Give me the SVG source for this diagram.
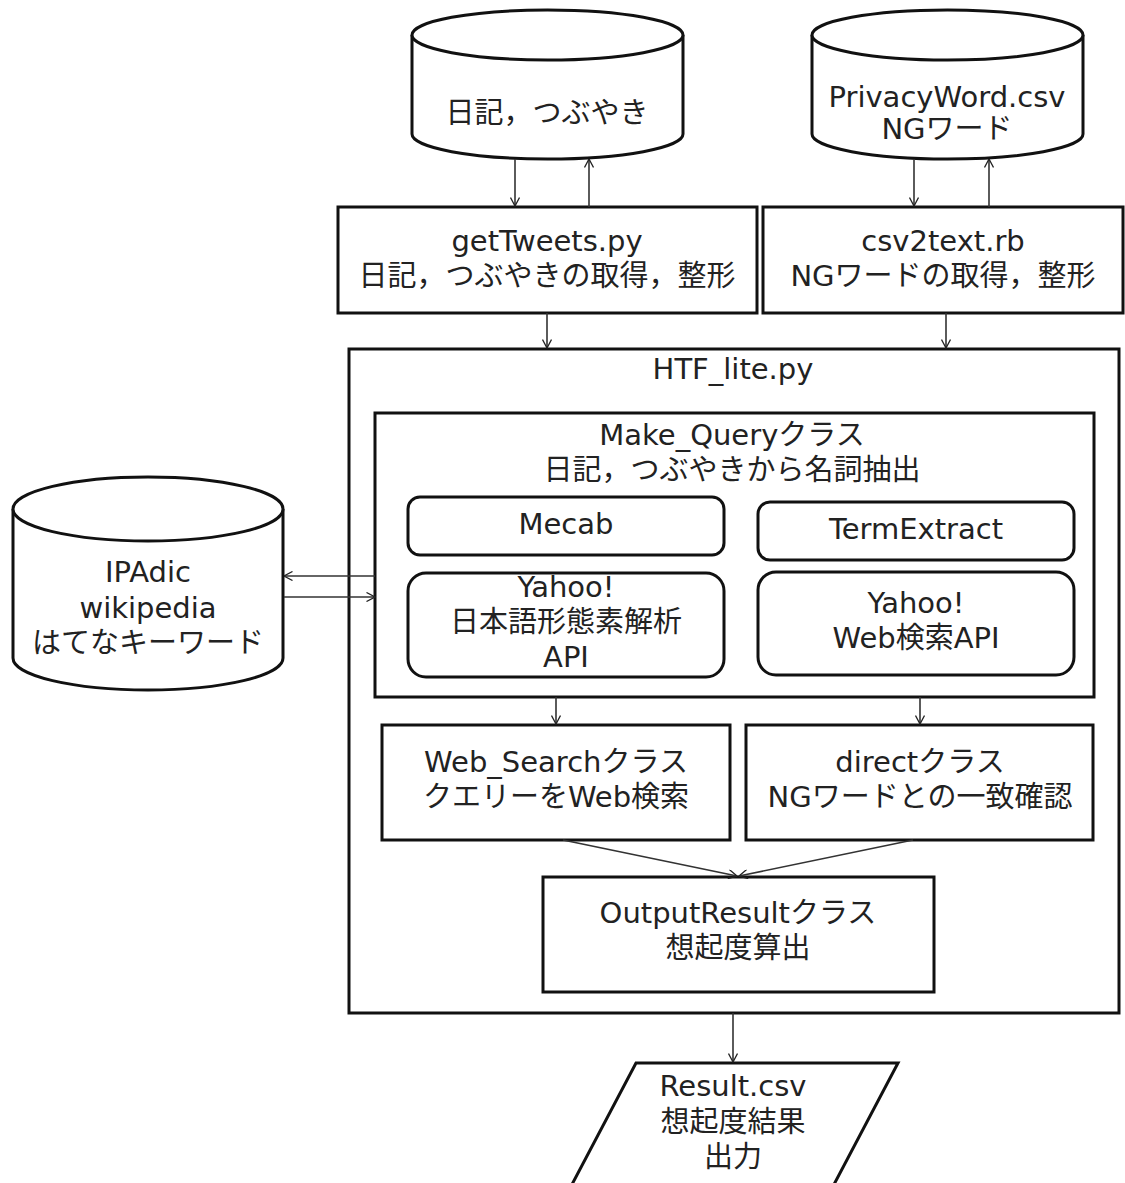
<svg xmlns="http://www.w3.org/2000/svg" width="1125" height="1183" viewBox="0 0 1125 1183">
<defs>
<marker id="arr" viewBox="0 0 10 10" refX="9.5" refY="5" markerWidth="10" markerHeight="10" markerUnits="userSpaceOnUse" orient="auto">
<path d="M1,0.5 L9.5,5 L1,9.5" fill="none" stroke="#222" stroke-width="1.3"/>
</marker>
<style>
.s{fill:#fff;stroke:#111;stroke-width:3}
.c{fill:none;stroke:#333;stroke-width:1.6;marker-end:url(#arr)}
text{font-family:"DejaVu Sans","Noto Sans CJK JP",sans-serif;font-size:29px;fill:#222;text-anchor:middle}
</style>
</defs>
<rect width="1125" height="1183" fill="#fff"/>

<g id="db-diary">
<path class="s" d="M412,35 L412,134 A135.5,25 0 0 0 683,134 L683,35"/>
<ellipse class="s" cx="547.5" cy="35" rx="135.5" ry="25"/>
<text x="547" y="123">日記，つぶやき</text>
</g>

<g id="db-privacy">
<path class="s" d="M812,35 L812,134 A135.5,25 0 0 0 1083,134 L1083,35"/>
<ellipse class="s" cx="947.5" cy="35" rx="135.5" ry="25"/>
<text x="947" y="107">PrivacyWord.csv</text>
<text x="947" y="139">NGワード</text>
</g>

<g id="getTweets">
<rect class="s" x="338" y="207" width="419" height="106"/>
<text x="547" y="251">getTweets.py</text>
<text x="547" y="286">日記，つぶやきの取得，整形</text>
</g>

<g id="csv2text">
<rect class="s" x="763" y="207" width="360" height="106"/>
<text x="943" y="251">csv2text.rb</text>
<text x="943" y="286">NGワードの取得，整形</text>
</g>

<g id="HTF_lite">
<rect class="s" x="349" y="349" width="770" height="664"/>
<text x="733" y="379">HTF_lite.py</text>
</g>

<g id="Make_Query">
<rect class="s" x="375" y="413" width="719" height="284"/>
<text x="732" y="445">Make_Queryクラス</text>
<text x="732" y="480">日記，つぶやきから名詞抽出</text>
</g>

<g id="Mecab">
<rect class="s" x="408" y="497" width="316" height="58" rx="12"/>
<text x="566" y="534">Mecab</text>
</g>

<g id="TermExtract">
<rect class="s" x="758" y="502" width="316" height="58" rx="12"/>
<text x="916" y="539">TermExtract</text>
</g>

<g id="Yahoo-morph">
<rect class="s" x="408" y="573" width="316" height="104" rx="18"/>
<text x="566" y="597">Yahoo!</text>
<text x="566" y="632">日本語形態素解析</text>
<text x="566" y="667">API</text>
</g>

<g id="Yahoo-web">
<rect class="s" x="758" y="572" width="316" height="103" rx="18"/>
<text x="916" y="613">Yahoo!</text>
<text x="916" y="648">Web検索API</text>
</g>

<g id="db-ipadic">
<path class="s" d="M13,509 L13,658 A135,32 0 0 0 283,658 L283,509"/>
<ellipse class="s" cx="148" cy="509" rx="135" ry="32"/>
<text x="148" y="582">IPAdic</text>
<text x="148" y="618">wikipedia</text>
<text x="148" y="653">はてなキーワード</text>
</g>

<g id="Web_Search">
<rect class="s" x="382" y="725" width="348" height="115"/>
<text x="556" y="772">Web_Searchクラス</text>
<text x="556" y="807">クエリーをWeb検索</text>
</g>

<g id="direct">
<rect class="s" x="746" y="725" width="347" height="115"/>
<text x="920" y="772">directクラス</text>
<text x="920" y="807">NGワードとの一致確認</text>
</g>

<g id="OutputResult">
<rect class="s" x="543" y="877" width="391" height="115"/>
<text x="738" y="923">OutputResultクラス</text>
<text x="738" y="958">想起度算出</text>
</g>

<g id="Result">
<polygon class="s" points="636,1063 898,1063 830,1192 568,1192"/>
<text x="733" y="1096">Result.csv</text>
<text x="733" y="1132">想起度結果</text>
<text x="733" y="1167">出力</text>
</g>

<g id="connectors">
<line class="c" x1="515" y1="159" x2="515" y2="206"/>
<line class="c" x1="589" y1="207" x2="589" y2="159"/>
<line class="c" x1="914" y1="159" x2="914" y2="206"/>
<line class="c" x1="989" y1="207" x2="989" y2="159"/>
<line class="c" x1="547" y1="313" x2="547" y2="348"/>
<line class="c" x1="946" y1="313" x2="946" y2="348"/>
<line class="c" x1="375" y1="576" x2="284" y2="576"/>
<line class="c" x1="284" y1="597" x2="375" y2="597"/>
<line class="c" x1="556" y1="697" x2="556" y2="724"/>
<line class="c" x1="920" y1="697" x2="920" y2="724"/>
<line class="c" x1="563" y1="840" x2="737" y2="876"/>
<line class="c" x1="913" y1="840" x2="739" y2="876"/>
<line class="c" x1="733" y1="1013" x2="733" y2="1062"/>
</g>
</svg>
